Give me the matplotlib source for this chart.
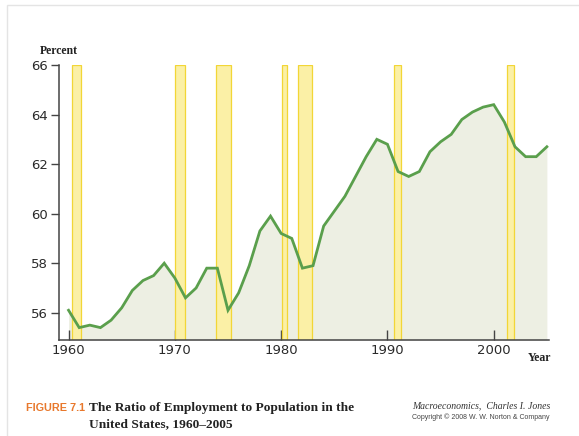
import matplotlib.pyplot as plt
from matplotlib.patches import Rectangle

# employment-to-population ratio, civilian, annual
years = list(range(1960, 2006))
ratio = [56.1, 55.4, 55.5, 55.4, 55.7, 56.2, 56.9, 57.3, 57.5, 58.0,
         57.4, 56.6, 57.0, 57.8, 57.8, 56.1, 56.8, 57.9, 59.3, 59.9,
         59.2, 59.0, 57.8, 57.9, 59.5, 60.1, 60.7, 61.5, 62.3, 63.0,
         62.8, 61.7, 61.5, 61.7, 62.5, 62.9, 63.2, 63.8, 64.1, 64.3,
         64.4, 63.7, 62.7, 62.3, 62.3, 62.7]

# recession periods (start, end) in fractional years
rec_start = [1960.33, 1970.0, 1973.9, 1980.05, 1981.55, 1990.6, 2001.25]
rec_end   = [1961.15, 1970.95, 1975.25, 1980.55, 1982.9, 1991.25, 2001.95]

yticks = [56, 58, 60, 62, 64, 66]
xticks = [1960, 1970, 1980, 1990, 2000]

W, H = 579, 436
fig = plt.figure(figsize=(W / 100, H / 100), dpi=100)
ax = fig.add_axes([59 / W, 1 - 340 / H, (549 - 59) / W, (340 - 65) / H])

ax.set_xlim(1959.1, 2005.2)
ax.set_ylim(54.9, 66)

ax.fill_between(years, ratio, 54.9, color='#edefe3', lw=0, zorder=1)
for s, e in zip(rec_start, rec_end):
    ax.axvspan(s, e, facecolor='#fbf0a6', edgecolor='#f2d636', lw=0.9, zorder=2)
ax.plot(years, ratio, color='#5a9f4c', lw=2.0, solid_joinstyle='miter', zorder=3)

for side in ['top', 'right']:
    ax.spines[side].set_visible(False)
for side in ['left', 'bottom']:
    ax.spines[side].set_color('#444444')
    ax.spines[side].set_linewidth(1.1)

ax.set_yticks(yticks)
ax.set_xticks(xticks)
ax.tick_params(axis='y', direction='out', length=6, width=1.0, color='#444444',
               labelsize=9.5, labelcolor='#2a2a2a', pad=2)
ax.tick_params(axis='x', direction='in', length=7, width=1.0, color='#444444',
               labelsize=9.5, labelcolor='#2a2a2a', pad=3)

fig.text(40 / W, 1 - 51 / H, 'Percent', fontsize=8.5, weight='bold',
         family='Liberation Serif', color='#222222', va='center')
fig.text(528 / W, 1 - 358 / H, 'Year', fontsize=8.5, weight='bold',
         family='Liberation Serif', color='#222222', va='center')

# light frame around the panel
fig.patches.append(Rectangle((7 / W, -0.1), 1.2, 1 - 5 / H + 0.1,
                             transform=fig.transFigure, fill=False,
                             edgecolor='#e4e4e4', lw=1.0))

fig.text(26 / W, 1 - 408 / H, 'FIGURE 7.1', fontsize=7.8, weight='bold',
         family='Liberation Sans', color='#e8782c', va='center')
fig.text(89 / W, 1 - 408 / H, 'The Ratio of Employment to Population in the',
         fontsize=9.6, weight='bold', family='Liberation Serif', color='#222222',
         va='center')
fig.text(89 / W, 1 - 424 / H, 'United States, 1960\u20132005',
         fontsize=9.6, weight='bold', family='Liberation Serif', color='#222222',
         va='center')
fig.text(550 / W, 1 - 406 / H, 'Macroeconomics,  Charles I. Jones', fontsize=7,
         style='italic', family='Liberation Serif', color='#333333', ha='right',
         va='center')
fig.text(550 / W, 1 - 417 / H, 'Copyright \u00a9 2008 W. W. Norton & Company',
         fontsize=5, family='Liberation Sans', color='#444444', ha='right',
         va='center')

fig.savefig('out.png', dpi=100)
